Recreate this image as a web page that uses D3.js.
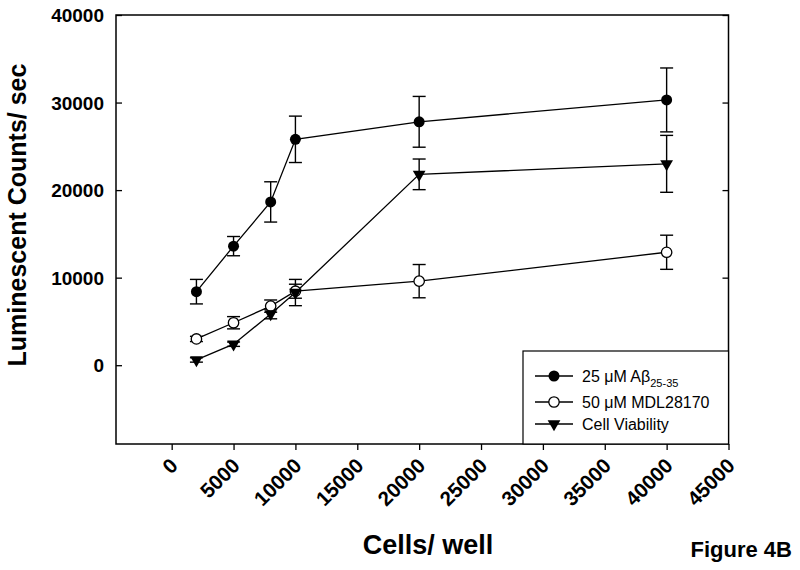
<!DOCTYPE html>
<html><head><meta charset="utf-8">
<script src="https://cdn.jsdelivr.net/npm/d3@7"></script>
<style>body{margin:0;background:#fff;} text{font-family:"Liberation Sans",Arial,sans-serif;}</style>
</head><body>
<svg id="c" width="800" height="570"></svg>
<script>
const cells = [2000, 5000, 8000, 10000, 20000, 40000];
const abeta = [8400, 13600, 18650, 25800, 27800, 30300];
const abetaErr = [1400, 1100, 2300, 2650, 2900, 3650];
const mdl = [3000, 4850, 6750, 8450, 9600, 12900];
const mdlErr = [300, 700, 700, 800, 1900, 1950];
const viability = [600, 2400, 5850, 8300, 21800, 23000];
const viabilityErr = [250, 250, 550, 1500, 1750, 3250];
const xTicks = [0, 5000, 10000, 15000, 20000, 25000, 30000, 35000, 40000, 45000];
const yTicks = [0, 10000, 20000, 30000, 40000];
const seriesNames = ["25 \u03BCM A\u03B2", "50 \u03BCM MDL28170", "Cell Viability"];

const svg = d3.select("#c");
const L = 116, R = 728.5, T = 15, B = 444;
const x = d3.scaleLinear().domain([-4500, 45000]).range([L, R]);
const y = d3.scaleLinear().domain([-9000, 40000]).range([B, T]);

// frame
svg.append("rect").attr("x", L).attr("y", T).attr("width", R - L).attr("height", B - T)
  .attr("fill", "none").attr("stroke", "#000").attr("stroke-width", 1.5);

// x axis
const gx = svg.append("g").attr("transform", `translate(0,${B})`)
  .call(d3.axisBottom(x).tickValues(xTicks).tickSize(6).tickFormat(""));
gx.select(".domain").remove();
gx.selectAll("line").attr("stroke-width", 1.3);
gx.selectAll(".tick").append("text")
  .attr("transform", "translate(7,23) rotate(-45)")
  .attr("text-anchor", "end").attr("fill", "#000")
  .attr("font-size", 20.5).attr("font-weight", "bold")
  .attr("font-family", "Liberation Sans, Arial, sans-serif")
  .text(d => d);

// y axis left (inward ticks)
const gy = svg.append("g").attr("transform", `translate(${L},0)`)
  .call(d3.axisRight(y).tickValues(yTicks).tickSize(6).tickFormat(""));
gy.select(".domain").remove();
gy.selectAll("line").attr("stroke-width", 1.3);
gy.selectAll(".tick").append("text")
  .attr("x", -12).attr("dy", "0.35em")
  .attr("text-anchor", "end").attr("fill", "#000")
  .attr("font-size", 19).attr("font-weight", "bold")
  .attr("font-family", "Liberation Sans, Arial, sans-serif")
  .text(d => d);
// right mirror ticks
const gr = svg.append("g").attr("transform", `translate(${R},0)`)
  .call(d3.axisLeft(y).tickValues(yTicks).tickSize(6).tickFormat(""));
gr.select(".domain").remove();
gr.selectAll("line").attr("stroke-width", 1.3);

// titles
svg.append("text").attr("x", 428).attr("y", 554).attr("text-anchor", "middle")
  .attr("font-size", 27).attr("font-weight", "bold").text("Cells/ well");
svg.append("text").attr("transform", "translate(26,215) rotate(-90)").attr("text-anchor", "middle")
  .attr("font-size", 25).attr("font-weight", "bold").text("Luminescent Counts/ sec");
svg.append("text").attr("x", 792).attr("y", 557).attr("text-anchor", "end")
  .attr("font-size", 22).attr("font-weight", "bold").text("Figure 4B");

const series = [
  {vals: abeta, err: abetaErr, type: "filled"},
  {vals: mdl, err: mdlErr, type: "open"},
  {vals: viability, err: viabilityErr, type: "tri"}
];
const line = d3.line().x(d => x(d[0])).y(d => y(d[1]));
const tri = d3.symbol().type(d3.symbolTriangle).size(70);

function drawMarker(g, type, cx, cy) {
  if (type === "filled") g.append("circle").attr("cx", cx).attr("cy", cy).attr("r", 5.5).attr("fill", "#000");
  else if (type === "open") g.append("circle").attr("cx", cx).attr("cy", cy).attr("r", 5.2).attr("fill", "#fff").attr("stroke", "#000").attr("stroke-width", 1.3);
  else g.append("path").attr("d", tri()).attr("transform", `translate(${cx},${cy}) rotate(180)`).attr("fill", "#000");
}

series.forEach(s => {
  const pts = cells.map((c, i) => [c, s.vals[i]]);
  svg.append("path").attr("d", line(pts)).attr("fill", "none").attr("stroke", "#000").attr("stroke-width", 1.3);
});
series.forEach(s => {
  const g = svg.append("g").attr("stroke", "#000").attr("stroke-width", 1.4);
  cells.forEach((c, i) => {
    const cx = x(c), y1 = y(s.vals[i] - s.err[i]), y2 = y(s.vals[i] + s.err[i]);
    g.append("line").attr("x1", cx).attr("x2", cx).attr("y1", y1).attr("y2", y2);
    g.append("line").attr("x1", cx - 6.5).attr("x2", cx + 6.5).attr("y1", y1).attr("y2", y1);
    g.append("line").attr("x1", cx - 6.5).attr("x2", cx + 6.5).attr("y1", y2).attr("y2", y2);
  });
});
series.forEach(s => {
  const g = svg.append("g");
  cells.forEach((c, i) => drawMarker(g, s.type, x(c), y(s.vals[i])));
});

// legend
const lg = svg.append("g");
lg.append("rect").attr("x", 523).attr("y", 351).attr("width", R - 523).attr("height", B - 351)
  .attr("fill", "#fff").attr("stroke", "#000").attr("stroke-width", 1.2);
const rowsY = [376, 402, 424];
series.forEach((s, i) => {
  lg.append("line").attr("x1", 535).attr("x2", 573).attr("y1", rowsY[i]).attr("y2", rowsY[i])
    .attr("stroke", "#000").attr("stroke-width", 1.3);
  drawMarker(lg, s.type, 554, rowsY[i]);
  const t = lg.append("text").attr("x", 582).attr("y", rowsY[i]).attr("dy", "0.36em")
    .attr("font-size", 16).text(seriesNames[i]);
  if (i === 0) t.append("tspan").attr("font-size", 11).attr("dy", 5).text("25-35");
});
</script>
</body></html>
